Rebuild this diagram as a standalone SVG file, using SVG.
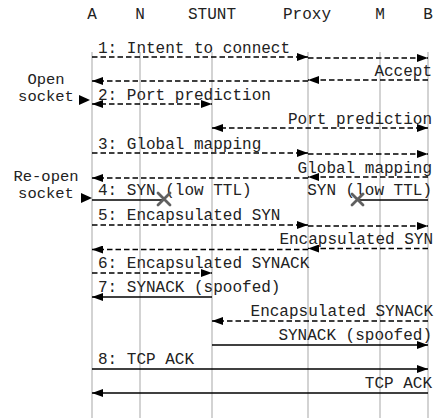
<svg xmlns="http://www.w3.org/2000/svg" width="435" height="418" viewBox="0 0 435 418">
<style>
text{font-family:"Liberation Mono","Courier New",monospace;font-size:16px;fill:#222}
.hd{text-anchor:middle}
.r{text-anchor:end}
.nt{text-anchor:middle;font-size:15.5px}
.life{stroke:#c8c8c8;stroke-width:1.6}
.d{stroke:#000;stroke-width:1.4;stroke-dasharray:5.5 3;fill:none}
.s{stroke:#000;stroke-width:1.4;fill:none}
.x{stroke:#606060;stroke-width:2.8;stroke-linecap:round}
</style>
<defs>
<marker id="ah" markerUnits="userSpaceOnUse" markerWidth="11" markerHeight="8" refX="11" refY="4" orient="auto-start-reverse">
<path d="M0,0 L11,4 L0,8 z" fill="#000"/>
</marker>
</defs>
<rect width="435" height="418" fill="#fff"/>
<g id="lifelines">
<g id="A"><text class="hd" x="92" y="19">A</text><line class="life" x1="92" y1="52" x2="92" y2="418"/></g>
<g id="N"><text class="hd" x="140" y="19">N</text><line class="life" x1="140" y1="52" x2="140" y2="418"/></g>
<g id="STUNT"><text class="hd" x="212" y="19">STUNT</text><line class="life" x1="212" y1="52" x2="212" y2="418"/></g>
<g id="Proxy"><text class="hd" x="307" y="19">Proxy</text><line class="life" x1="308" y1="52" x2="308" y2="418"/></g>
<g id="M"><text class="hd" x="380" y="19">M</text><line class="life" x1="380" y1="52" x2="380" y2="418"/></g>
<g id="B"><text class="hd" x="428" y="19">B</text><line class="life" x1="428" y1="52" x2="428" y2="418"/></g>
</g>
<g id="notes">
<text class="nt" x="46" y="84">Open</text>
<text class="nt" x="46" y="101">socket</text>
<path d="M79,95 L90,100 L79,105 z" fill="#000"/>
<text class="nt" x="46" y="181">Re-open</text>
<text class="nt" x="46" y="198">socket</text>
<path d="M81,193 L92,198 L81,203 z" fill="#000"/>
</g>
<g id="connectors">
<line class="d" x1="92" y1="57" x2="308" y2="57" marker-end="url(#ah)"/>
<line class="d" x1="308" y1="58" x2="428" y2="58" marker-end="url(#ah)"/>
<line class="d" x1="428" y1="80" x2="308" y2="80" marker-end="url(#ah)"/>
<line class="d" x1="308" y1="81" x2="92" y2="81" marker-end="url(#ah)"/>
<line class="d" x1="92" y1="104" x2="212" y2="104" marker-start="url(#ah)" marker-end="url(#ah)"/>
<line class="d" x1="212" y1="128" x2="428" y2="128" marker-start="url(#ah)" marker-end="url(#ah)"/>
<line class="d" x1="92" y1="153" x2="308" y2="153" marker-end="url(#ah)"/>
<line class="d" x1="308" y1="154" x2="428" y2="154" marker-end="url(#ah)"/>
<line class="d" x1="428" y1="177" x2="308" y2="177" marker-end="url(#ah)"/>
<line class="d" x1="308" y1="178" x2="92" y2="178" marker-end="url(#ah)"/>
<line class="s" x1="92" y1="200" x2="162" y2="200"/>
<line class="s" x1="428" y1="200" x2="358" y2="200"/>
<line class="d" x1="92" y1="225" x2="308" y2="225" marker-end="url(#ah)"/>
<line class="d" x1="308" y1="226" x2="428" y2="226" marker-end="url(#ah)"/>
<line class="d" x1="428" y1="248.5" x2="308" y2="248.5" marker-end="url(#ah)"/>
<line class="d" x1="308" y1="249.5" x2="92" y2="249.5" marker-end="url(#ah)"/>
<line class="d" x1="92" y1="273" x2="212" y2="273" marker-end="url(#ah)"/>
<line class="s" x1="212" y1="297" x2="92" y2="297" marker-end="url(#ah)"/>
<line class="d" x1="428" y1="321" x2="212" y2="321" marker-end="url(#ah)"/>
<line class="s" x1="212" y1="345" x2="428" y2="345" marker-end="url(#ah)"/>
<line class="s" x1="92" y1="369" x2="428" y2="369" marker-end="url(#ah)"/>
<line class="s" x1="428" y1="393" x2="92" y2="393" marker-end="url(#ah)"/>
</g>
<g id="labels">
<text x="98" y="53">1: Intent to connect</text>
<text class="r" x="432" y="76">Accept</text>
<text x="98" y="100">2: Port prediction</text>
<text class="r" x="432" y="124">Port prediction</text>
<text x="98" y="149">3: Global mapping</text>
<text class="r" x="432" y="173">Global mapping</text>
<text x="98" y="195">4: SYN (low TTL)</text>
<text class="r" x="432" y="195">SYN (low TTL)</text>
<text x="98" y="220">5: Encapsulated SYN</text>
<text class="r" x="433" y="244">Encapsulated SYN</text>
<text x="98" y="268">6: Encapsulated SYNACK</text>
<text x="98" y="292">7: SYNACK (spoofed)</text>
<text class="r" x="433" y="316">Encapsulated SYNACK</text>
<text class="r" x="432" y="340">SYNACK (spoofed)</text>
<text x="98" y="364">8: TCP ACK</text>
<text class="r" x="432" y="388">TCP ACK</text>
</g>
<g id="drops">
<path class="x" d="M158,193 L170,205 M170,193 L158,205"/>
<path class="x" d="M352,194 L363,205 M363,194 L352,205"/>
</g>
</svg>
